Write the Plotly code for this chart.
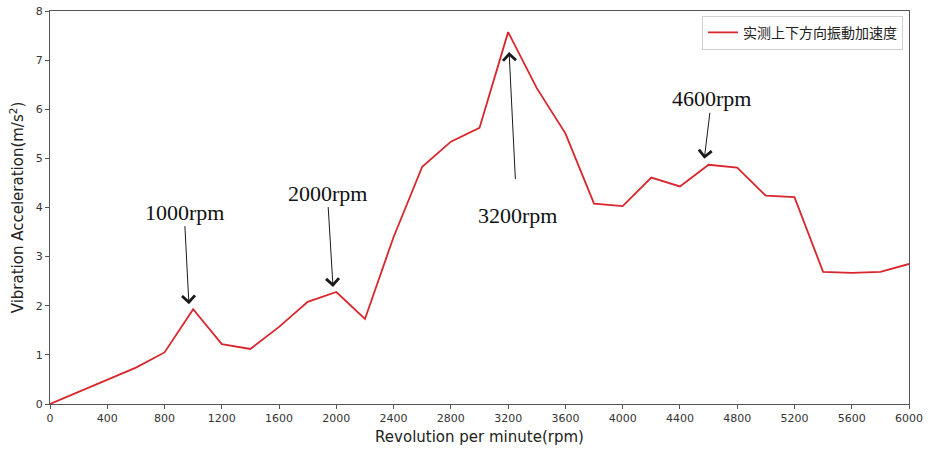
import plotly.graph_objects as go

rpm = [0, 200, 400, 600, 800, 1000, 1200, 1400, 1600, 1800, 2000, 2200, 2400, 2600,
       2800, 3000, 3200, 3400, 3600, 3800, 4000, 4200, 4400, 4600, 4800, 5000, 5200,
       5400, 5600, 5800, 6000]
accel = [0.0, 0.25, 0.49, 0.74, 1.05, 1.93, 1.22, 1.12, 1.57, 2.08, 2.28, 1.73, 3.40, 4.83,
         5.34, 5.62, 7.57, 6.43, 5.51, 4.08, 4.03, 4.61, 4.43, 4.87, 4.81, 4.24, 4.21,
         2.69, 2.67, 2.69, 2.85]
x_ticks = list(range(0, 6001, 400))
y_ticks = list(range(0, 9))
series_name = "实测上下方向振動加速度"
x_title = "Revolution per minute(rpm)"
y_title = "Vibration Acceleration(m/s<sup>2</sup>)"
marked_rpm = [1000, 2000, 3200, 4600]
marked_labels = ["1000rpm", "2000rpm", "3200rpm", "4600rpm"]

fig = go.Figure()
fig.add_trace(go.Scatter(x=rpm, y=accel, mode="lines", name=series_name,
                         line=dict(color="#d8262c", width=1.8)))

# per marker: (xshift, ax, ay, standoff, borderpad)
styles = [
    (-4, -5, -97, 5, 1),
    (-3, -6, -99, 5, 1),
    (0, 9, 183, 20, 23),
    (-5, 8, -66, 6, 1),
]
for r, lab, st in zip(marked_rpm, marked_labels, styles):
    v = accel[rpm.index(r)]
    xs, ax, ay, so, bp = st
    fig.add_annotation(x=r, y=v, xref="x", yref="y", text=lab, showarrow=True,
                       ax=ax, ay=ay, axref="pixel", ayref="pixel", xshift=xs,
                       arrowhead=4, arrowsize=2.5, arrowwidth=1.0, arrowcolor="#1a1a1a",
                       standoff=so, borderpad=bp,
                       font=dict(family="Liberation Serif", size=22, color="#111111"))

axis_common = dict(showline=True, linecolor="#555555", linewidth=1.2, mirror=True,
                   ticks="outside", ticklen=4, tickcolor="#555555", showgrid=False,
                   zeroline=False, automargin=False,
                   tickfont=dict(family="DejaVu Sans", size=11, color="#333333"))
fig.update_xaxes(range=[0, 6000], tickvals=x_ticks, title=dict(text=x_title, standoff=7,
                 font=dict(family="DejaVu Sans", size=15, color="#222222")), **axis_common)
fig.update_yaxes(range=[0, 8], tickvals=y_ticks, title=dict(text=y_title, standoff=8,
                 font=dict(family="DejaVu Sans", size=15, color="#222222")), **axis_common)

fig.update_layout(
    width=931, height=451,
    margin=dict(l=50, r=22, t=11, b=47),
    plot_bgcolor="white", paper_bgcolor="white",
    showlegend=True,
    legend=dict(x=0.993, y=0.988, xanchor="right", yanchor="top", itemwidth=30,
                bordercolor="#d0d0d0", borderwidth=1, bgcolor="white",
                font=dict(family="Noto Sans CJK JP", size=14, color="#222222")),
)
fig.write_html("out.html", config={"displayModeBar": False},
               post_script="document.body.style.margin='0';document.body.style.padding='0';document.body.style.overflow='hidden';")
